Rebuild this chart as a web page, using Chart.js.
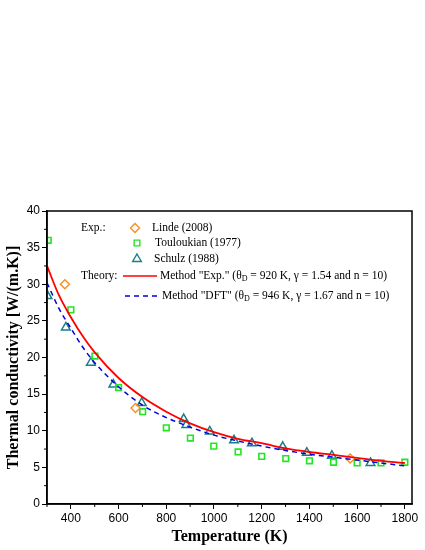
<!DOCTYPE html>
<html><head><meta charset="utf-8">
<script src="https://cdn.jsdelivr.net/npm/chart.js@4"></script>
<style>html,body{margin:0;background:#fff}#c{display:block}</style>
</head><body>
<div style="width:425px;height:550px"><canvas id="c"></canvas></div>
<script>
// valeurs
const lindeT = [375, 671, 1571];
const lindeK = [30.0, 13.1, 6.2];
const toulT = [305, 400, 501, 600, 701, 800, 901, 999, 1101, 1200, 1301, 1400, 1501, 1600, 1700, 1800];
const toulK = [36.0, 26.5, 20.2, 15.9, 12.6, 10.4, 9.0, 7.9, 7.1, 6.5, 6.2, 5.9, 5.7, 5.6, 5.6, 5.7];
const schT = [302, 379, 484, 578, 697, 873, 884, 982, 1084, 1159, 1288, 1389, 1494, 1656];
const schK = [28.4, 24.1, 19.3, 16.3, 13.8, 11.6, 10.8, 9.9, 8.7, 8.3, 7.8, 7.0, 6.6, 5.6];
const thT = [300, 350, 400, 450, 500, 600, 700, 800, 900, 1000, 1100, 1200, 1300, 1400, 1500, 1600, 1700, 1800];
const expK = [32.5, 28.5, 25.5, 22.9, 20.7, 17.2, 14.6, 12.6, 11.0, 9.8, 8.9, 8.3, 7.6, 7.1, 6.7, 6.3, 5.9, 5.6];
const dftK = [30.2, 26.7, 24.0, 21.4, 19.3, 16.0, 13.5, 11.8, 10.5, 9.4, 8.6, 7.9, 7.3, 6.8, 6.4, 6.0, 5.6, 5.2];
const xTicks = [400, 600, 800, 1000, 1200, 1400, 1600, 1800];

const pts = (xs, ys) => xs.map((x, i) => ({ x, y: ys[i] }));
const SERIF = '"Liberation Serif","Times New Roman",serif';

// légende + cadre + petites graduations
const extras = {
  id: 'extras',
  afterDraw(chart) {
    const c = chart.ctx, a = chart.chartArea, xs = chart.scales.x, ys = chart.scales.y;
    c.save();
    c.strokeStyle = '#000'; c.lineWidth = 1.5;
    c.strokeRect(a.left, a.top, a.right - a.left, a.bottom - a.top);
    c.lineWidth = 1;
    for (let v = 300; v <= 1800; v += 100) {
      if (v % 200 === 0) continue;
      const p = xs.getPixelForValue(v);
      c.beginPath(); c.moveTo(p, a.bottom); c.lineTo(p, a.bottom + 3); c.stroke();
    }
    for (let v = 2.5; v < 40; v += 5) {
      const p = ys.getPixelForValue(v);
      c.beginPath(); c.moveTo(a.left, p); c.lineTo(a.left - 3, p); c.stroke();
    }
    c.fillStyle = '#000'; c.font = '11.5px ' + SERIF; c.textBaseline = 'middle';
    c.fillText('Exp.:', 81, 228);
    c.fillText('Linde (2008)', 152, 228);
    c.fillText('Touloukian (1977)', 155, 243);
    c.fillText('Schulz (1988)', 154, 259);
    c.fillText('Theory:', 81, 276);
    const mk = (x, y, style, col, r) => {
      c.strokeStyle = col; c.fillStyle = '#fff';
      Chart.helpers.drawPoint(c, { pointStyle: style, radius: r, borderWidth: 1.4 }, x, y);
    };
    c.lineWidth = 1.4;
    mk(135, 228, 'rectRot', '#ff8c1a', 4.5);
    mk(137, 243, 'rect', '#22e622', 4);
    mk(137, 259, 'triangle', '#1a7f86', 5);
    c.fillStyle = '#000';
    c.strokeStyle = '#f00'; c.lineWidth = 1.5;
    c.beginPath(); c.moveTo(123, 276); c.lineTo(157, 276); c.stroke();
    c.strokeStyle = '#0000e0'; c.setLineDash([5, 4]);
    c.beginPath(); c.moveTo(125, 296); c.lineTo(159, 296); c.stroke();
    c.setLineDash([]);
    const rich = (x, y, pre, val) => {
      c.font = '11.5px ' + SERIF;
      c.fillText(pre + ' (\u03B8', x, y); x += c.measureText(pre + ' (\u03B8').width;
      c.font = '8px ' + SERIF; c.fillText('D', x, y + 3); x += c.measureText('D').width;
      c.font = '11.5px ' + SERIF; c.fillText(val, x, y);
    };
    rich(160, 276, 'Method "Exp."', ' = 920 K, \u03B3 = 1.54 and n = 10)');
    rich(162, 296, 'Method "DFT"', ' = 946 K, \u03B3 = 1.67 and n = 10)');
    c.restore();
  }
};

new Chart(document.getElementById('c'), {
  type: 'scatter',
  data: {
    datasets: [
      { data: pts(thT, expK), showLine: true, borderColor: '#f00', borderWidth: 1.8, pointRadius: 0, cubicInterpolationMode: 'monotone', fill: false },
      { data: pts(thT, dftK), showLine: true, borderColor: '#0000e0', borderWidth: 1.5, borderDash: [5, 4], pointRadius: 0, cubicInterpolationMode: 'monotone', fill: false },
      { data: pts(lindeT, lindeK), pointStyle: 'rectRot', pointRadius: 4.5, borderColor: '#ff8c1a', backgroundColor: 'transparent', pointBorderWidth: 1.4 },
      { data: pts(toulT, toulK), pointStyle: 'rect', pointRadius: 4, borderColor: '#22e622', backgroundColor: 'transparent', pointBorderWidth: 1.6 },
      { data: pts(schT, schK), pointStyle: 'triangle', pointRadius: 5, borderColor: '#1a7f86', backgroundColor: 'transparent', pointBorderWidth: 1.5 }
    ]
  },
  options: {
    responsive: true, maintainAspectRatio: false, animation: false,
    layout: { padding: { top: 211, right: 13, left: 0, bottom: 0 } },
    plugins: { legend: { display: false }, tooltip: { enabled: false } },
    scales: {
      x: {
        type: 'linear', min: 300, max: 1830,
        afterBuildTicks: s => { s.ticks = xTicks.map(v => ({ value: v })); },
        grid: { drawOnChartArea: false, tickLength: 5, color: '#000' },
        border: { color: '#000', width: 1.5 },
        ticks: { color: '#000', font: { family: 'Arial, "Liberation Sans"', size: 12 }, padding: 2, maxRotation: 0, callback: v => String(v) },
        title: { display: true, text: 'Temperature (K)', color: '#000', font: { family: SERIF, size: 16, weight: 'bold' }, padding: { top: 0 } },
        afterFit: s => { s.height = 46; }
      },
      y: {
        min: 0, max: 40,
        ticks: { stepSize: 5, color: '#000', font: { family: 'Arial, "Liberation Sans"', size: 12 }, padding: 2 },
        grid: { drawOnChartArea: false, tickLength: 5, color: '#000' },
        border: { color: '#000', width: 1.5 },
        title: { display: true, text: 'Thermal conductivity [W/(m.K)]', color: '#000', font: { family: SERIF, size: 16, weight: 'bold' }, padding: { bottom: 0 } },
        afterFit: s => { s.width = 47; }
      }
    }
  },
  plugins: [extras]
});
</script>
</body></html>
